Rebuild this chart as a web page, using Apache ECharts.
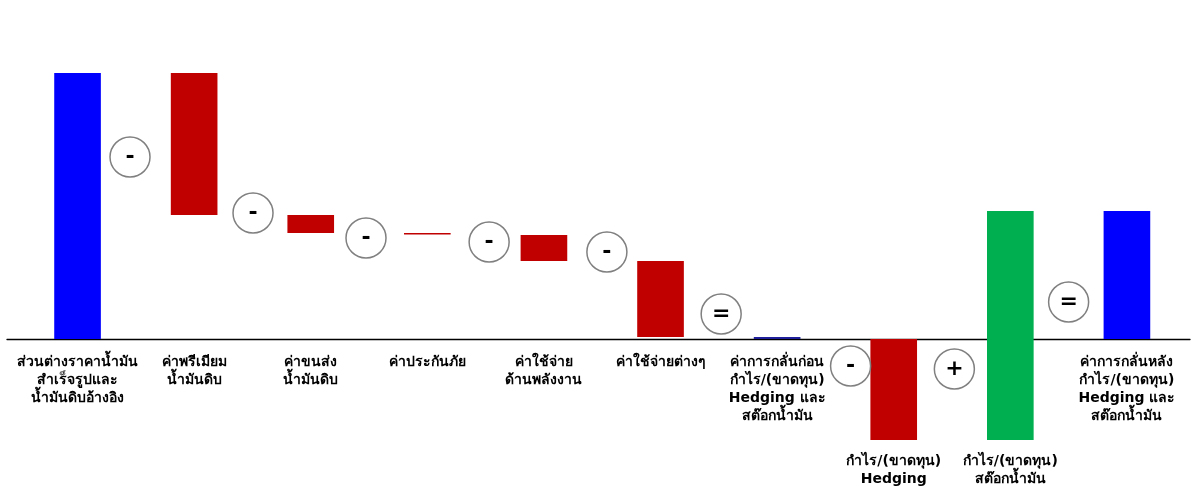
<!DOCTYPE html>
<html>
<head>
<meta charset="utf-8">
<script src="https://cdn.jsdelivr.net/npm/echarts@6/dist/echarts.min.js"></script>
<style>html,body{margin:0;padding:0;background:#fff;}#c{width:1200px;height:504px;}</style>
</head>
<body>
<div id="c"></div>
<script>
// Categories (Thai labels as in the reference)
const categories = [
  "ส่วนต่างราคาน้ำมัน\nสำเร็จรูปและ\nน้ำมันดิบอ้างอิง",
  "ค่าพรีเมียม\nน้ำมันดิบ",
  "ค่าขนส่ง\nน้ำมันดิบ",
  "ค่าประกันภัย",
  "ค่าใช้จ่าย\nด้านพลังงาน",
  "ค่าใช้จ่ายต่างๆ",
  "ค่าการกลั่นก่อน\nกำไร/(ขาดทุน)\nHedging และ\nสต๊อกน้ำมัน",
  "กำไร/(ขาดทุน)\nHedging",
  "กำไร/(ขาดทุน)\nสต๊อกน้ำมัน",
  "ค่าการกลั่นหลัง\nกำไร/(ขาดทุน)\nHedging และ\nสต๊อกน้ำมัน"
];
// Waterfall bar start / end values
const barStart = [0, 26.6, 12.4, 10.6, 10.4, 7.8, 0, 0, -10.1, 0];
const barEnd   = [26.6, 12.4, 10.6, 10.45, 7.8, 0.2, 0.2, -10.1, 12.8, 12.8];
const barColors = ["#0000FF", "#C00000", "#C00000", "#C00000", "#C00000", "#C00000", "#1F1F9C", "#C00000", "#00B050", "#0000FF"];
// Operator circles between bars
const opSigns = ["-", "-", "-", "-", "-", "=", "-", "+", "="];
const opX = [0.45, 1.505, 2.474, 3.53, 4.54, 5.52, 6.63, 7.52, 8.50];
const opY = [18.2, 12.6, 10.1, 9.7, 8.7, 2.5, -2.7, -3.0, 3.7];

const FONT = 'bold 14px Tahoma, "DejaVu Sans", "Noto Sans", sans-serif';

const chart = echarts.init(document.getElementById('c'), null, {renderer: 'canvas'});
chart.setOption({
  animation: false,
  backgroundColor: '#ffffff',
  grid: {left: 7, right: 10, top: 73, bottom: 64, containLabel: false},
  xAxis: {
    type: 'value', min: -0.605, max: 9.541,
    axisLine: {show: true, onZero: true, lineStyle: {color: '#000', width: 1.3}},
    axisTick: {show: false}, axisLabel: {show: false}, splitLine: {show: false}
  },
  yAxis: {
    type: 'value', min: -10.1, max: 26.6,
    axisLine: {show: false}, axisTick: {show: false}, axisLabel: {show: false}, splitLine: {show: false}
  },
  series: [
    {
      type: 'custom',
      z: 2,
      data: categories.map((c, i) => [i, barStart[i], barEnd[i]]),
      renderItem: function (params, api) {
        const idx = params.dataIndex;
        const i = api.value(0), s = api.value(1), e = api.value(2);
        const hi = Math.max(s, e), lo = Math.min(s, e);
        const pTop = api.coord([i, hi]);
        const pBot = api.coord([i, lo]);
        const w = api.size([1, 0])[0] * 0.4;
        let h = pBot[1] - pTop[1];
        if (h < 1.5) h = 1.5;
        const zeroY = api.coord([i, 0])[1];
        const ly = lo < 0 ? pBot[1] + 12 : zeroY + 14;
        return {
          type: 'group',
          children: [
            {type: 'rect', shape: {x: pTop[0] - w / 2, y: pTop[1], width: w, height: h}, style: {fill: barColors[idx]}},
            {type: 'text', style: {text: categories[idx], x: pTop[0], y: ly, align: 'center', verticalAlign: 'top', font: FONT, lineHeight: 18, fill: '#000'}}
          ]
        };
      }
    },
    {
      type: 'scatter',
      z: 3,
      symbol: 'circle',
      symbolSize: 40,
      data: opX.map((x, i) => [x, opY[i]]),
      itemStyle: {color: '#ffffff', borderColor: '#808080', borderWidth: 1.5, opacity: 1},
      label: {
        show: true, position: 'inside',
        formatter: p => opSigns[p.dataIndex],
        fontSize: 22, fontWeight: 'bold', color: '#000',
        fontFamily: 'Tahoma, "DejaVu Sans", sans-serif'
      },
      emphasis: {disabled: true}
    }
  ]
});
</script>
</body>
</html>
